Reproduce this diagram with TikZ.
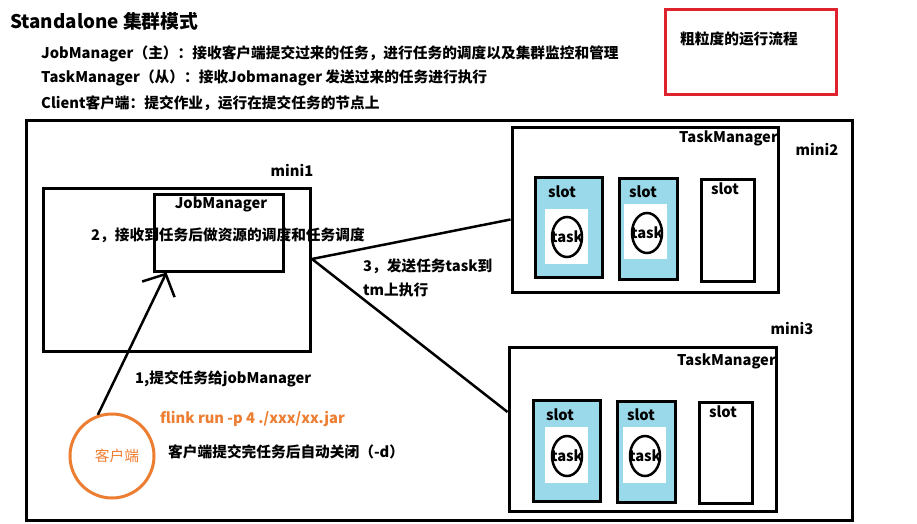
\documentclass[tikz,border=0pt]{standalone}
\usepackage{fontspec}
\setmainfont{Noto Sans CJK SC}
\usetikzlibrary{arrows.meta,positioning}
\usetikzlibrary{shapes.geometric}
\definecolor{eBlue}{RGB}{153,217,234}
\definecolor{eOrange}{RGB}{237,125,49}
\definecolor{eRed}{RGB}{222,34,46}
\tikzset{box/.style={draw, line width=3pt, inner sep=0pt}}
\tikzset{slotbox/.style={box, fill=eBlue}}
\tikzset{freeslot/.style={box, fill=white}}
\tikzset{hole/.style={fill=white, inner sep=0pt}}
\tikzset{tk/.style={ellipse, draw, line width=2.5pt, minimum width=30pt,
  minimum height=40pt, inner sep=0pt}}
\tikzset{t/.style={font=\bfseries\fontsize{14.7}{16}\selectfont, inner sep=0pt}}
\tikzset{tw/.style={t, anchor=west}}
\tikzset{l/.style={draw, line width=2.5pt}}
\tikzset{la/.style={draw, line width=2.5pt,
  -{Straight Barb[length=17pt, width=36pt]}}}

\begin{document}
\begin{tikzpicture}[x=1pt, y=-1pt]
            \useasboundingbox (0,0) rectangle (917,524);
            %% header
            \node (title) at (10,21) [t, anchor=west,
                font=\bfseries\fontsize{18.8}{20}\selectfont] {Standalone 集群模式};
            \node (jmdesc) at (41,54) [tw] {JobManager（主）：接收客户端提交过来的任务，进行任务的调度以及集群监控和管理};
            \node (tmdesc) at (41,78) [tw] {TaskManager（从）：接收Jobmanager 发送过来的任务进行执行};
            \node (cldesc) at (41,103) [tw] {Client客户端：提交作业，运行在提交任务的节点上};
            \node (note) at (750.5,52.5) [box, draw=eRed, minimum width=171,
                minimum height=85] {};
            \node (notetxt) at (680,39) [tw] {粗粒度的运行流程};
            %% cluster
            \node (cluster) at (439,320) [box, minimum width=826, minimum height=400] {};
            %% mini1
            \node (mini1) at (176.5,269.5) [box, minimum width=267, minimum height=163] {};
            \node (mini1lbl) at (292,170) [t] {mini1};
            \node (jm) at (218.5,232.5) [box, minimum width=129, minimum height=77] {};
            \node (jmlbl) at (221,204) [t] {JobManager};
            \node (step2) at (91,235) [tw] {2，接收到任务后做资源的调度和任务调度};
            %% mini2
            \node (tm1) at (645,209.5) [box, minimum width=266, minimum height=165] {};
            \node (tm1lbl) at (778,138) [t, anchor=east] {TaskManager};
            \node (mini2lbl) at (817,149) [t] {mini2};
            \node (s11) at (568.5,227) [slotbox, minimum width=67, minimum height=100] {};
            \node (s12) at (648,228.5) [slotbox, minimum width=58, minimum height=101] {};
            \node (s13) at (727.5,230) [freeslot, minimum width=53, minimum height=102] {};
            \node (h11) at (566.5,236.5) [hole, minimum width=43, minimum height=55] {};
            \node (h12) at (645.5,231.5) [hole, minimum width=43, minimum height=55] {};
            \node (e11) at (567,237) [tk] {};
            \node (e12) at (647,233) [tk] {};
            \node at (e11) [t] {task};
            \node at (e12) [t] {task};
            \node (s11lbl) at (562,192) [t] {slot};
            \node (s12lbl) at (643,192) [t] {slot};
            \node (s13lbl) at (725,189) [t] {slot};
            %% mini3
            \node (tm2) at (642.5,429) [box, minimum width=267, minimum height=164] {};
            \node (tm2lbl) at (776,361) [t, anchor=east] {TaskManager};
            \node (mini3lbl) at (792,328) [t] {mini3};
            \node (s21) at (566.5,450.5) [slotbox, minimum width=67, minimum height=101] {};
            \node (s22) at (646,451.5) [slotbox, minimum width=58, minimum height=101] {};
            \node (s23) at (725.5,452.5) [freeslot, minimum width=53, minimum height=101] {};
            \node (h21) at (566.5,455) [hole, minimum width=43, minimum height=56] {};
            \node (h22) at (644.5,455) [hole, minimum width=43, minimum height=56] {};
            \node (e21) at (567,456) [tk] {};
            \node (e22) at (645,456) [tk] {};
            \node at (e21) [t] {task};
            \node at (e22) [t] {task};
            \node (s21lbl) at (560,415) [t] {slot};
            \node (s22lbl) at (641,415) [t] {slot};
            \node (s23lbl) at (723,412) [t] {slot};
            %% client
            \node (client) at (112,456) [circle, draw=eOrange, line width=3pt,
                minimum size=84, inner sep=0pt] {};
            \node (clientlbl) at (117,456) [t, font=\fontsize{14.7}{16}\selectfont,
                text=eOrange] {客户端};
            \node (step1) at (135,379) [tw] {1,提交任务给jobManager};
            \node (cmd) at (160,419) [tw, text=eOrange] {flink run -p 4 ./xxx/xx.jar};
            \node (detach) at (168,452) [tw] {客户端提交完任务后自动关闭（-d）};
            \node (step3a) at (363,266) [tw] {3，发送任务task到};
            \node (step3b) at (363,290) [tw] {tm上执行};
            %%
            \coordinate (out) at (312,259);
            \path[la] (client.109) to ([xshift=14pt]jm.south west);
            \path[l] (out) to ([yshift=-10pt]tm1.west);
            \path[l] (out) to ([yshift=17pt]tm2.west);
\end{tikzpicture}
\end{document}
